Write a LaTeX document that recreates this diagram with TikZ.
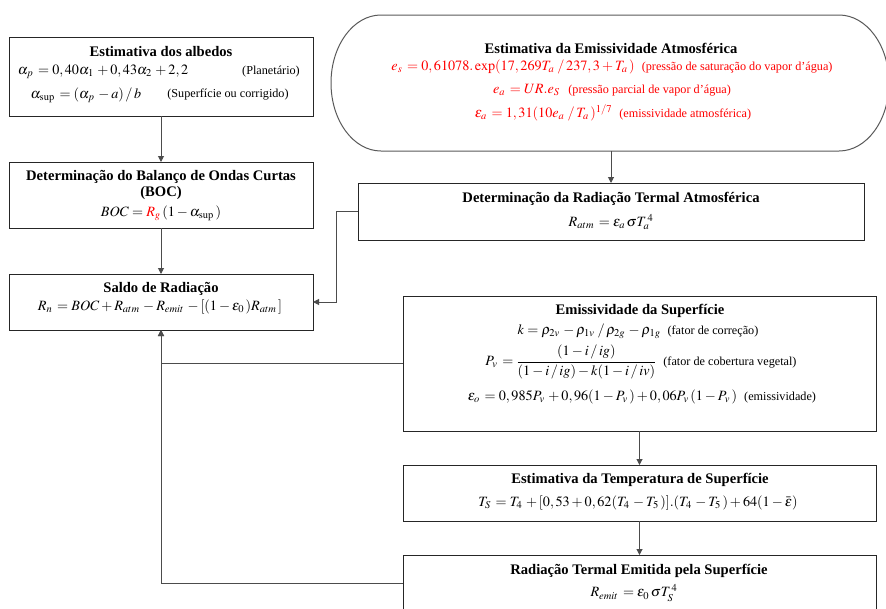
\documentclass[tikz,border=0pt]{standalone}
\usepackage{mathptmx}
\usepackage[no-math]{fontspec}
\setmainfont{Liberation Serif}
\usetikzlibrary{arrows.meta,calc}
\newcommand\parnote[1]{{\fontsize{12.2}{14}\selectfont #1}}
\newcommand\sk{\mkern2mu}
\begin{document}
\begin{tikzpicture}[x=1pt,y=1pt,
 box/.style={draw=black!85,line width=1pt,rectangle,inner sep=0pt,outer sep=0pt},
 ttl/.style={font=\fontsize{14.6}{17}\selectfont\bfseries,inner sep=0pt},
 eq/.style={font=\fontsize{14.2}{17}\selectfont,inner sep=0pt},
 conn/.style={draw=black!70,line width=1pt},
 arr/.style={conn,-{Triangle[length=6pt,width=6pt]}},
 stadium/.style={draw=black!65,line width=1pt}
]
\useasboundingbox (0,0) rectangle (886,-608);
\clip (0,0) rectangle (886,-608);

% boxes
\node[box,minimum width=304pt,minimum height=79pt] (alb) at (161,-76.5) {};
\node[box,minimum width=304pt,minimum height=66pt] (boc) at (161,-195) {};
\node[box,minimum width=304pt,minimum height=56pt] (saldo) at (161,-302) {};
\node[inner sep=0pt,outer sep=0pt,minimum width=558pt,minimum height=136pt] (st) at (610,-83) {};
\node[box,minimum width=506pt,minimum height=57pt] (atm) at (611,-211.5) {};
\node[box,minimum width=473pt,minimum height=135pt] (emis) at (639.5,-363.5) {};
\node[box,minimum width=473pt,minimum height=56pt] (temp) at (639.5,-493) {};
\node[box,minimum width=473pt,minimum height=56pt] (rad) at (639.5,-583) {};

% stadium outline
\draw[stadium] ($(st.north west)+(50,0)$) -- ($(st.north east)+(-50,0)$)
  arc[start angle=90,end angle=-90,x radius=50,y radius=68]
  -- ($(st.south west)+(50,0)$)
  arc[start angle=270,end angle=90,x radius=50,y radius=68] -- cycle;

% texts: albedos
\node[ttl] (t1) at (161,-52) {Estimativa dos albedos};
\node[eq] (e1a) at (103,-72) {$\alpha_p\sk = 0,40\alpha_1\sk + 0,43\alpha_2\sk + 2,2$};
\node[inner sep=0pt] (p1a) at (271,-72) {\parnote{(Planetário)}};
\node[eq] (e1b) at (86,-95) {$\alpha_{\mathrm{sup}}\sk = (\alpha_p\sk - a)\,/\,b$};
\node[inner sep=0pt] (p1b) at (228,-95) {\parnote{(Superfície ou corrigido)}};

% BOC
\node[ttl] (t2) at (161,-177) {Determinação do Balanço de Ondas Curtas};
\node[ttl] (t2b) at (161,-193) {(BOC)};
\node[eq] (e2) at (161,-213) {$BOC = {\color{red}R_g\sk}(1-\alpha_{\mathrm{sup}}\sk)$};

% Saldo
\node[ttl] (t3) at (161,-289) {Saldo de Radiação};
\node[eq] (e3) at (160,-307) {$R_n\sk = BOC + R_{atm}\sk - R_{emit}\sk - [(1-\varepsilon_0\sk)R_{atm}\sk]$};

% stadium texts
\node[ttl] (t4) at (611,-48) {Estimativa da Emissividade Atmosférica};
\node[eq,text=red] (e4a) at (612,-67) {$e_s\sk = 0,61078.\exp(17,269T_a\sk\,/\,237,3+T_a\sk)$\enspace\parnote{(pressão de saturação do vapor d’água)}};
\node[eq,text=red] (e4b) at (612,-90) {$e_a\sk = UR.e_S\sk$\enspace\parnote{(pressão parcial de vapor d’água)}};
\node[eq,text=red] (e4c) at (613,-113) {$\varepsilon_a\sk = 1,31(10e_a\sk\,/\,T_a\sk)^{1/7}$\enspace\parnote{(emissividade atmosférica)}};

% atm
\node[ttl] (t5) at (611,-199) {Determinação da Radiação Termal Atmosférica};
\node[eq] (e5) at (611,-222) {$R_{atm}\sk = \varepsilon_a\sk\sigma T_a^{\,4}$};

% emis
\node[ttl] (t6) at (640,-311) {Emissividade da Superfície};
\node[eq] (e6a) at (638,-331) {$k = \rho_{2v}\sk - \rho_{1v}\sk\,/\,\rho_{2g}\sk - \rho_{1g}$\enspace\parnote{(fator de correção)}};
\node[eq] (e6b) at (641,-362) {$P_v\sk = \displaystyle\frac{(1-i\,/\,ig)}{(1-i\,/\,ig)-k(1-i\,/\,iv)}$\enspace\parnote{(fator de cobertura vegetal)}};
\node[eq] (e6c) at (642,-397) {$\varepsilon_o\sk = 0,985P_v\sk + 0,96(1-P_v\sk) + 0,06P_v\sk(1-P_v\sk)$\enspace\parnote{(emissividade)}};

% temp
\node[ttl] (t7) at (640,-480) {Estimativa da Temperatura de Superfície};
\node[eq] (e7) at (638,-503) {$T_S\sk = T_4\sk + [0,53 + 0,62(T_4\sk - T_5\sk)].(T_4\sk - T_5\sk) + 64(1-\bar{\varepsilon})$};

% rad
\node[ttl] (t8) at (639,-571) {Radiação Termal Emitida pela Superfície};
\node[eq] (e8) at (634,-593) {$R_{emit}\sk = \varepsilon_0\sk\sigma T_S^{\,4}$};

% connectors
\draw[arr] (alb.south) -- (boc.north);
\draw[arr] (boc.south) -- (saldo.north);
\draw[arr] (st.south -| atm.north) -- (atm.north);
\draw[arr] (atm.west) -- ++(-22,0) |- (saldo.east);
\draw[arr] (emis.west) -| (saldo.south);
\draw[arr] (rad.west) -| (saldo.south);
\draw[arr] (emis.south) -- (temp.north);
\draw[arr] (temp.south) -- (rad.north);
\end{tikzpicture}
\end{document}
